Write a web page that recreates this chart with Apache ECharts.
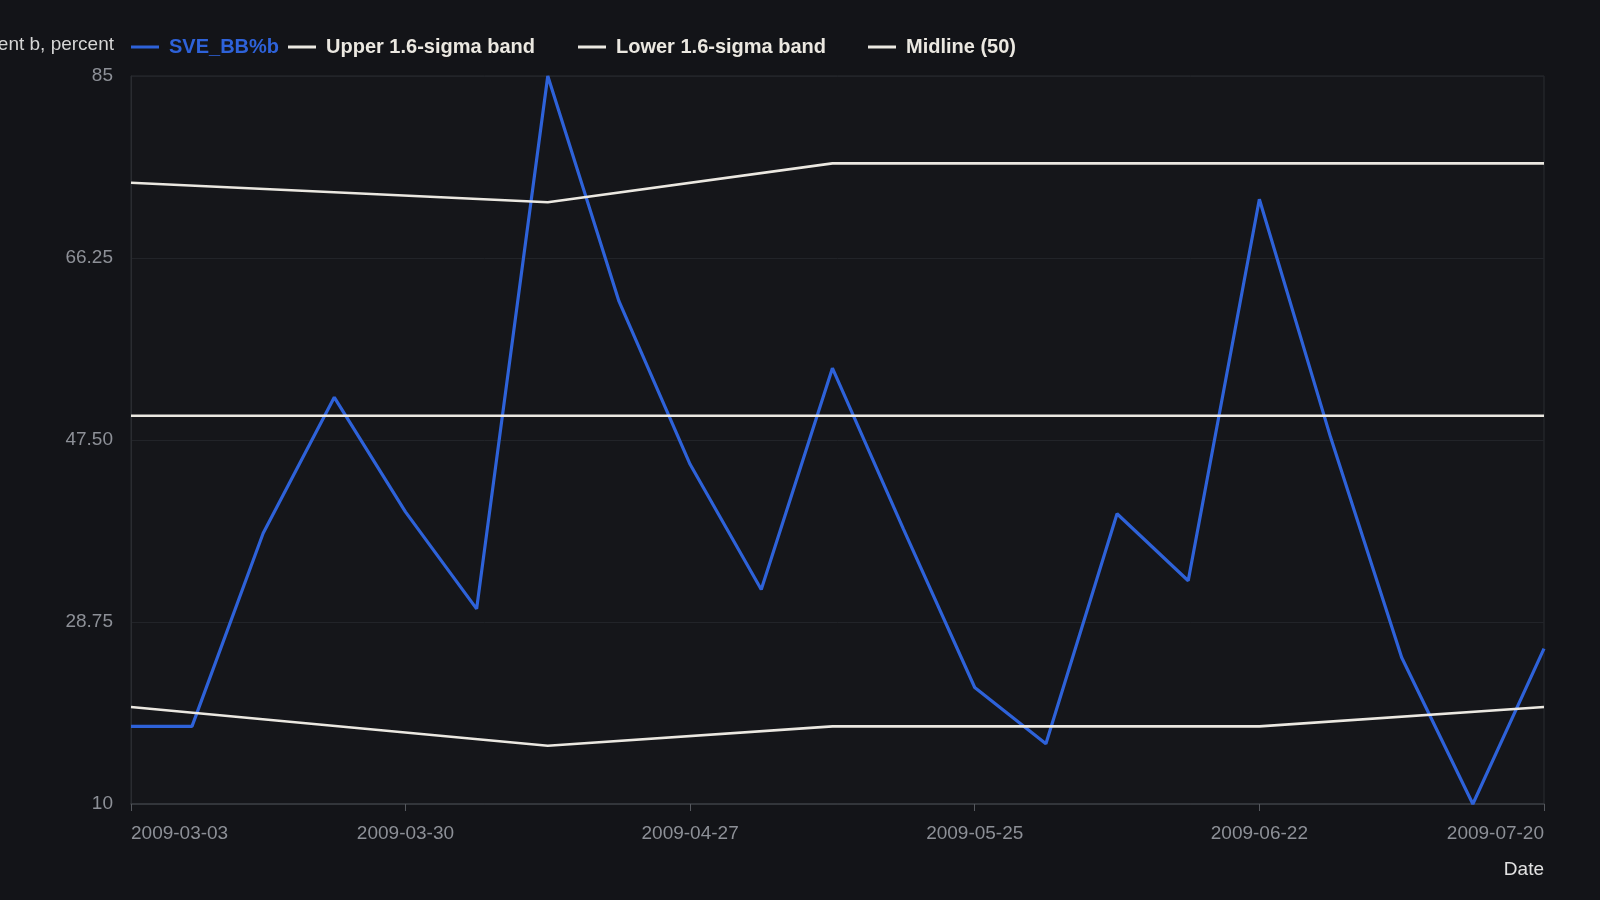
<!DOCTYPE html>
<html>
<head>
<meta charset="utf-8">
<style>
  html, body { margin: 0; padding: 0; background: #131418; }
  #main { width: 1600px; height: 900px; }
</style>
<script src="https://cdn.jsdelivr.net/npm/echarts@6/dist/echarts.min.js"></script>
</head>
<body>
<div id="main"></div>
<script>
  // weekly dates of the indicator
  const dates = ['2009-03-03', '2009-03-09', '2009-03-16', '2009-03-23', '2009-03-30', '2009-04-06',
    '2009-04-13', '2009-04-20', '2009-04-27', '2009-05-04', '2009-05-11', '2009-05-18', '2009-05-25',
    '2009-06-01', '2009-06-08', '2009-06-15', '2009-06-22', '2009-06-29', '2009-07-06', '2009-07-13', '2009-07-20']
  const sveValues = [18, 18, 37.9, 51.9, 40.1, 30.1, 85, 61.8, 45, 32.1, 54.9, 38.3, 22,
    16.2, 39.9, 33, 72.3, 47.8, 25.1, 10, 26]

  // band lines only change at a few dates
  const bandDates = ['2009-03-03', '2009-04-13', '2009-05-11', '2009-06-22', '2009-07-20']
  const upperBand = [74, 72, 76, 76, 76]
  const lowerBand = [20, 16, 18, 18, 20]
  const midDates = ['2009-03-03', '2009-07-20']
  const midValues = [50, 50]

  const seriesNames = ['SVE_BB%b', 'Upper 1.6-sigma band', 'Lower 1.6-sigma band', 'Midline (50)']
  const xTickDates = ['2009-03-03', '2009-03-30', '2009-04-27', '2009-05-25', '2009-06-22', '2009-07-20']
  const yMin = 10, yMax = 85, yStep = 18.75

  const blue = '#2e62d9'
  const white = '#ebe8e1'
  const font = 'Liberation Sans, Arial, Helvetica, sans-serif'

  function toTime (d) {
    return +echarts.time.parse(d)
  }
  function pairs (xs, ys) {
    return xs.map(function (x, i) { return [toTime(x), ys[i]] })
  }

  const chart = echarts.init(document.getElementById('main'))
  const tickTimes = xTickDates.map(toTime)

  // one legend per item, the original spacing is not even
  const legendLeft = [126, 283, 573, 863]
  const legends = seriesNames.map(function (name, i) {
    return {
      left: legendLeft[i],
      top: 32,
      icon: 'rect',
      itemWidth: 28,
      itemHeight: 3,
      data: [name],
      textStyle: {
        color: i === 0 ? blue : white,
        fontSize: 20,
        fontWeight: 'bold',
        fontFamily: font,
        padding: [0, 0, 0, 5]
      }
    }
  })

  chart.setOption({
    backgroundColor: '#131418',
    textStyle: { fontFamily: font },
    legend: legends,
    grid: {
      left: 131,
      right: 56,
      top: 76,
      bottom: 96,
      containLabel: false,
      outerBoundsMode: 'none',
      show: true,
      backgroundColor: '#15161a',
      borderColor: '#2a2c31',
      borderWidth: 1
    },
    xAxis: {
      type: 'value',
      min: tickTimes[0],
      max: tickTimes[tickTimes.length - 1],
      name: 'Date',
      nameLocation: 'end',
      nameGap: 0,
      nameTextStyle: {
        color: '#e2e2e2',
        fontSize: 19,
        align: 'right',
        verticalAlign: 'top',
        padding: [56, 0, 0, 0]
      },
      axisLine: { lineStyle: { color: '#3a3c42', width: 1.5 } },
      axisTick: {
        show: true,
        length: 7,
        customValues: tickTimes,
        lineStyle: { color: '#55585e' }
      },
      axisLabel: {
        customValues: tickTimes,
        color: '#8d9097',
        fontSize: 19,
        margin: 20,
        alignMinLabel: 'left',
        alignMaxLabel: 'right',
        formatter: function (v) {
          return echarts.time.format(v, '{yyyy}-{MM}-{dd}', false)
        }
      },
      splitLine: { show: false }
    },
    yAxis: {
      type: 'value',
      min: yMin,
      max: yMax,
      interval: yStep,
      name: 'Percent b, percent',
      nameLocation: 'end',
      nameGap: 31,
      nameTextStyle: {
        color: '#d6d6d6',
        fontSize: 19,
        align: 'right',
        verticalAlign: 'middle',
        padding: [0, 17, 0, 0]
      },
      axisLine: { show: true, lineStyle: { color: '#2a2c31' } },
      axisTick: { show: false },
      axisLabel: {
        color: '#8d9097',
        fontSize: 19,
        margin: 18,
        padding: [9, 0, 0, 0],
        formatter: function (v) {
          return Number.isInteger(v) ? String(v) : v.toFixed(2)
        }
      },
      splitLine: { lineStyle: { color: '#222429', width: 1 } }
    },
    series: [
      {
        name: seriesNames[0],
        type: 'line',
        data: pairs(dates, sveValues),
        showSymbol: false,
        symbol: 'none',
        color: blue,
        lineStyle: { color: blue, width: 3.2 }
      },
      {
        name: seriesNames[1],
        type: 'line',
        data: pairs(bandDates, upperBand),
        showSymbol: false,
        symbol: 'none',
        color: white,
        lineStyle: { color: white, width: 2.6 }
      },
      {
        name: seriesNames[2],
        type: 'line',
        data: pairs(bandDates, lowerBand),
        showSymbol: false,
        symbol: 'none',
        color: white,
        lineStyle: { color: white, width: 2.6 }
      },
      {
        name: seriesNames[3],
        type: 'line',
        data: pairs(midDates, midValues),
        showSymbol: false,
        symbol: 'none',
        color: white,
        lineStyle: { color: white, width: 2.6 }
      }
    ]
  })
</script>
</body>
</html>
